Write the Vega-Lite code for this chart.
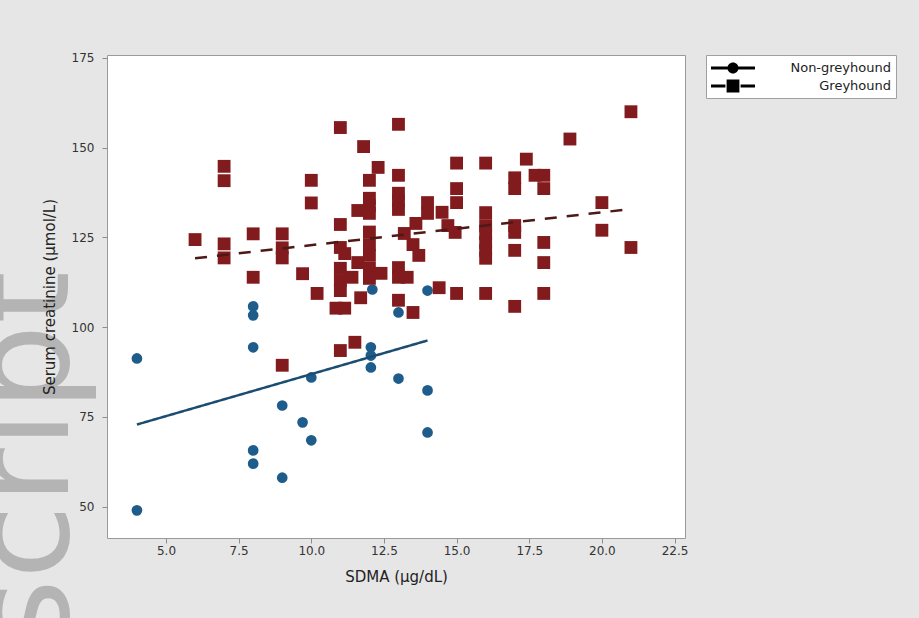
{
  "$schema": "https://vega.github.io/schema/vega-lite/v6.json",
  "width": 578,
  "height": 483,
  "autosize": {"type": "none"},
  "padding": {"left": 107, "top": 55, "right": 234, "bottom": 80},
  "background": "#e6e6e6",
  "config": {
    "view": {"fill": "white", "stroke": "#9a9a9a", "strokeWidth": 1},
    "font": "DejaVu Sans",
    "axis": {
      "domain": false, "grid": false,
      "tickColor": "#8c8c8c", "tickSize": 5,
      "labelColor": "#333333", "titleColor": "#222222",
      "labelFont": "DejaVu Sans", "titleFont": "DejaVu Sans",
      "labelFontSize": 12, "titleFontSize": 15, "titleFontWeight": "normal"
    }
  },
  "title": {
    "text": "script", "orient": "left", "anchor": "start", "frame": "group",
    "fontSize": 136, "font": "DejaVu Sans", "fontWeight": "normal",
    "color": "#b4b4b4", "offset": -55, "dx": -112, "zindex": 0
  },
  "datasets": {
    "points": [
      {"group": "Non-greyhound", "sdma": 4, "creatinine": 91.3},
      {"group": "Non-greyhound", "sdma": 4, "creatinine": 49},
      {"group": "Non-greyhound", "sdma": 8, "creatinine": 105.8},
      {"group": "Non-greyhound", "sdma": 8, "creatinine": 103.3},
      {"group": "Non-greyhound", "sdma": 8, "creatinine": 94.4},
      {"group": "Non-greyhound", "sdma": 8, "creatinine": 65.7},
      {"group": "Non-greyhound", "sdma": 8, "creatinine": 62},
      {"group": "Non-greyhound", "sdma": 9, "creatinine": 78.2},
      {"group": "Non-greyhound", "sdma": 9, "creatinine": 58.1},
      {"group": "Non-greyhound", "sdma": 9.7, "creatinine": 73.5},
      {"group": "Non-greyhound", "sdma": 10, "creatinine": 86},
      {"group": "Non-greyhound", "sdma": 10, "creatinine": 68.5},
      {"group": "Non-greyhound", "sdma": 12.05, "creatinine": 94.4},
      {"group": "Non-greyhound", "sdma": 12.05, "creatinine": 92.1},
      {"group": "Non-greyhound", "sdma": 12.05, "creatinine": 88.8},
      {"group": "Non-greyhound", "sdma": 12.1, "creatinine": 110.5},
      {"group": "Non-greyhound", "sdma": 13, "creatinine": 85.7},
      {"group": "Non-greyhound", "sdma": 13, "creatinine": 104.1},
      {"group": "Non-greyhound", "sdma": 14, "creatinine": 82.4},
      {"group": "Non-greyhound", "sdma": 14, "creatinine": 70.7},
      {"group": "Non-greyhound", "sdma": 14, "creatinine": 110.2},
      {"group": "Greyhound", "sdma": 6, "creatinine": 124.4},
      {"group": "Greyhound", "sdma": 7, "creatinine": 144.8},
      {"group": "Greyhound", "sdma": 7, "creatinine": 140.8},
      {"group": "Greyhound", "sdma": 7, "creatinine": 123.2},
      {"group": "Greyhound", "sdma": 7, "creatinine": 119.3},
      {"group": "Greyhound", "sdma": 8, "creatinine": 126},
      {"group": "Greyhound", "sdma": 8, "creatinine": 113.9},
      {"group": "Greyhound", "sdma": 9, "creatinine": 126},
      {"group": "Greyhound", "sdma": 9, "creatinine": 122.1},
      {"group": "Greyhound", "sdma": 9, "creatinine": 119.3},
      {"group": "Greyhound", "sdma": 9, "creatinine": 89.4},
      {"group": "Greyhound", "sdma": 9.7, "creatinine": 114.9},
      {"group": "Greyhound", "sdma": 10, "creatinine": 140.9},
      {"group": "Greyhound", "sdma": 10, "creatinine": 134.6},
      {"group": "Greyhound", "sdma": 10.2, "creatinine": 109.4},
      {"group": "Greyhound", "sdma": 11, "creatinine": 155.6},
      {"group": "Greyhound", "sdma": 11, "creatinine": 128.6},
      {"group": "Greyhound", "sdma": 11, "creatinine": 122.2},
      {"group": "Greyhound", "sdma": 11.15, "creatinine": 120.5},
      {"group": "Greyhound", "sdma": 11, "creatinine": 116.4},
      {"group": "Greyhound", "sdma": 11, "creatinine": 113},
      {"group": "Greyhound", "sdma": 11, "creatinine": 110.2},
      {"group": "Greyhound", "sdma": 10.85, "creatinine": 105.3},
      {"group": "Greyhound", "sdma": 11.15, "creatinine": 105.3},
      {"group": "Greyhound", "sdma": 11, "creatinine": 93.5},
      {"group": "Greyhound", "sdma": 11.5, "creatinine": 95.8},
      {"group": "Greyhound", "sdma": 11.8, "creatinine": 150.3},
      {"group": "Greyhound", "sdma": 11.6, "creatinine": 132.5},
      {"group": "Greyhound", "sdma": 11.6, "creatinine": 118},
      {"group": "Greyhound", "sdma": 11.4, "creatinine": 113.9},
      {"group": "Greyhound", "sdma": 11.7, "creatinine": 108.2},
      {"group": "Greyhound", "sdma": 12.3, "creatinine": 144.5},
      {"group": "Greyhound", "sdma": 12, "creatinine": 140.9},
      {"group": "Greyhound", "sdma": 12, "creatinine": 135.9},
      {"group": "Greyhound", "sdma": 12, "creatinine": 133.8},
      {"group": "Greyhound", "sdma": 12, "creatinine": 131.7},
      {"group": "Greyhound", "sdma": 12, "creatinine": 126.5},
      {"group": "Greyhound", "sdma": 12, "creatinine": 123},
      {"group": "Greyhound", "sdma": 12, "creatinine": 120},
      {"group": "Greyhound", "sdma": 12, "creatinine": 116.4},
      {"group": "Greyhound", "sdma": 12, "creatinine": 113.6},
      {"group": "Greyhound", "sdma": 12.4, "creatinine": 115},
      {"group": "Greyhound", "sdma": 13, "creatinine": 156.5},
      {"group": "Greyhound", "sdma": 13, "creatinine": 142.3},
      {"group": "Greyhound", "sdma": 13, "creatinine": 137.3},
      {"group": "Greyhound", "sdma": 13, "creatinine": 135.2},
      {"group": "Greyhound", "sdma": 13, "creatinine": 132.8},
      {"group": "Greyhound", "sdma": 13.2, "creatinine": 126.1},
      {"group": "Greyhound", "sdma": 13, "creatinine": 116.6},
      {"group": "Greyhound", "sdma": 13, "creatinine": 113.9},
      {"group": "Greyhound", "sdma": 13.3, "creatinine": 113.9},
      {"group": "Greyhound", "sdma": 13, "creatinine": 107.5},
      {"group": "Greyhound", "sdma": 13.5, "creatinine": 123},
      {"group": "Greyhound", "sdma": 13.7, "creatinine": 120},
      {"group": "Greyhound", "sdma": 13.6, "creatinine": 128.9},
      {"group": "Greyhound", "sdma": 13.5, "creatinine": 104.1},
      {"group": "Greyhound", "sdma": 14, "creatinine": 134.7},
      {"group": "Greyhound", "sdma": 14, "creatinine": 131.7},
      {"group": "Greyhound", "sdma": 14.5, "creatinine": 132},
      {"group": "Greyhound", "sdma": 14.4, "creatinine": 111},
      {"group": "Greyhound", "sdma": 15, "creatinine": 145.7},
      {"group": "Greyhound", "sdma": 15, "creatinine": 138.6},
      {"group": "Greyhound", "sdma": 15, "creatinine": 134.7},
      {"group": "Greyhound", "sdma": 14.7, "creatinine": 128.3},
      {"group": "Greyhound", "sdma": 14.95, "creatinine": 126.4},
      {"group": "Greyhound", "sdma": 15, "creatinine": 109.4},
      {"group": "Greyhound", "sdma": 16, "creatinine": 145.7},
      {"group": "Greyhound", "sdma": 16, "creatinine": 131.9},
      {"group": "Greyhound", "sdma": 16, "creatinine": 128.3},
      {"group": "Greyhound", "sdma": 16, "creatinine": 126.1},
      {"group": "Greyhound", "sdma": 16, "creatinine": 123.6},
      {"group": "Greyhound", "sdma": 16, "creatinine": 121.4},
      {"group": "Greyhound", "sdma": 16, "creatinine": 119.2},
      {"group": "Greyhound", "sdma": 16, "creatinine": 109.4},
      {"group": "Greyhound", "sdma": 17.4, "creatinine": 146.8},
      {"group": "Greyhound", "sdma": 17, "creatinine": 141.6},
      {"group": "Greyhound", "sdma": 17, "creatinine": 138.6},
      {"group": "Greyhound", "sdma": 17, "creatinine": 128.3},
      {"group": "Greyhound", "sdma": 17, "creatinine": 126.4},
      {"group": "Greyhound", "sdma": 17, "creatinine": 121.4},
      {"group": "Greyhound", "sdma": 17, "creatinine": 105.8},
      {"group": "Greyhound", "sdma": 17.7, "creatinine": 142.3},
      {"group": "Greyhound", "sdma": 18, "creatinine": 142.3},
      {"group": "Greyhound", "sdma": 18, "creatinine": 138.6},
      {"group": "Greyhound", "sdma": 18, "creatinine": 123.6},
      {"group": "Greyhound", "sdma": 18, "creatinine": 118},
      {"group": "Greyhound", "sdma": 18, "creatinine": 109.4},
      {"group": "Greyhound", "sdma": 18.9, "creatinine": 152.4},
      {"group": "Greyhound", "sdma": 20, "creatinine": 134.7},
      {"group": "Greyhound", "sdma": 20, "creatinine": 127},
      {"group": "Greyhound", "sdma": 21, "creatinine": 160},
      {"group": "Greyhound", "sdma": 21, "creatinine": 122.2}
    ],
    "lines": [
      {"group": "Non-greyhound", "sdma": 4, "creatinine": 72.9},
      {"group": "Non-greyhound", "sdma": 14, "creatinine": 96.3},
      {"group": "Greyhound", "sdma": 6, "creatinine": 119.2},
      {"group": "Greyhound", "sdma": 21, "creatinine": 132.9}
    ]
  },
  "encoding": {
    "x": {
      "field": "sdma", "type": "quantitative", "title": "SDMA (μg/dL)",
      "scale": {"domain": [2.97, 22.86], "nice": false, "zero": false},
      "axis": {"values": [5, 7.5, 10, 12.5, 15, 17.5, 20, 22.5], "format": ".1f", "labelPadding": 2, "titlePadding": 13, "labelFlush": false, "zindex": 1}
    },
    "y": {
      "field": "creatinine", "type": "quantitative", "title": "Serum creatinine (μmol/L)",
      "scale": {"domain": [41.3, 175.8], "nice": false, "zero": false},
      "axis": {"values": [50, 75, 100, 125, 150, 175], "labelPadding": 8, "titlePadding": 14, "labelFlush": false, "zindex": 1}
    }
  },
  "layer": [
    {
      "data": {"name": "points"},
      "mark": {"type": "point", "filled": true, "opacity": 1, "strokeWidth": 0},
      "encoding": {
        "fill": {"field": "group", "type": "nominal", "scale": {"domain": ["Non-greyhound", "Greyhound"], "range": ["#1e5d8b", "#821b1d"]}, "legend": null},
        "shape": {"field": "group", "type": "nominal", "scale": {"domain": ["Non-greyhound", "Greyhound"], "range": ["circle", "square"]}, "legend": null},
        "size": {"field": "group", "type": "ordinal", "scale": {"domain": ["Non-greyhound", "Greyhound"], "range": [115, 165]}, "legend": null}
      }
    },
    {
      "data": {"name": "lines"},
      "mark": {"type": "line", "strokeWidth": 2.5},
      "encoding": {
        "stroke": {"field": "group", "type": "nominal", "scale": {"domain": ["Non-greyhound", "Greyhound"], "range": ["#1b4d72", "#4e1818"]}, "legend": null},
        "strokeDash": {"field": "group", "type": "nominal", "scale": {"domain": ["Non-greyhound", "Greyhound"], "range": [[1, 0], [12, 10]]}, "legend": null}
      }
    },
    {
      "data": {"name": "lines"},
      "mark": {"type": "point", "filled": true, "opacity": 0},
      "encoding": {
        "fill": {"field": "group", "type": "nominal",
          "legend": {"orient": "right", "offset": 21, "title": null, "padding": 5, "fillColor": "white", "strokeColor": "#a0a0a0", "symbolSize": 256, "symbolStrokeWidth": 0, "symbolOpacity": 1, "labelFont": "DejaVu Sans", "labelFontSize": 13, "labelColor": "#222222", "labelAlign": "right", "labelOffset": 164, "rowPadding": 3}},
        "shape": {"field": "group", "type": "nominal",
          "scale": {"domain": ["Non-greyhound", "Greyhound"], "range": ["M-1,-0.19H4.5V0.19H-1Z M1.06,0A0.69,0.69 0 1,1 2.44,0A0.69,0.69 0 1,1 1.06,0Z", "M-1,-0.19H0.8V0.19H-1Z M2.7,-0.19H4.5V0.19H2.7Z M0.95,-0.8H2.55V0.8H0.95Z"]},
          "legend": {"orient": "right", "offset": 21, "title": null, "padding": 5, "fillColor": "white", "strokeColor": "#a0a0a0", "symbolSize": 256, "symbolStrokeWidth": 0, "symbolOpacity": 1, "labelFont": "DejaVu Sans", "labelFontSize": 13, "labelColor": "#222222", "labelAlign": "right", "labelOffset": 164, "rowPadding": 3}}
      }
    }
  ],
  "resolve": {"scale": {"shape": "independent"}}
}
